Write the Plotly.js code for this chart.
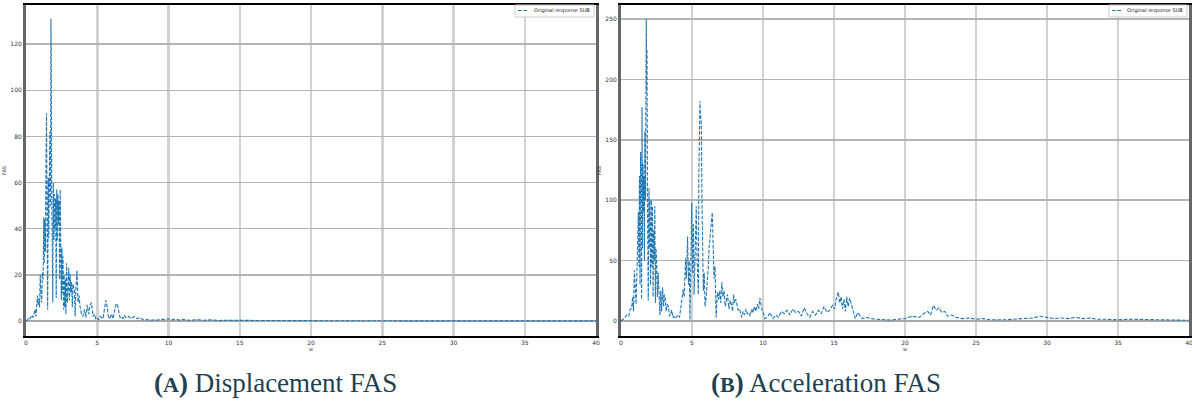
<!DOCTYPE html>
<html>
<head>
<meta charset="utf-8">
<script src="https://cdn.plot.ly/plotly-3.0.1.min.js"></script>
<style>html,body{margin:0;padding:0;background:#fff;}#chart{width:1192px;height:403px;}</style>
</head>
<body>
<div id="chart"></div>
<script>
// ---- Displacement FAS (panel A) ----
const dispW = [0,0.1,0.2,0.3,0.4,0.5,0.6,0.65,0.7,0.75,0.8,0.85,0.9,0.95,1.0,1.05,1.1,1.15,1.2,1.25,1.28,1.32,1.36,1.4,1.44,1.48,1.52,1.56,1.6,1.64,1.68,1.72,1.75,1.77,1.8,1.84,1.88,1.92,1.96,2.0,2.04,2.08,2.12,2.16,2.2,2.24,2.28,2.32,2.36,2.4,2.44,2.48,2.52,2.56,2.6,2.64,2.68,2.72,2.76,2.8,2.85,2.9,2.95,3.0,3.05,3.1,3.15,3.2,3.25,3.3,3.4,3.45,3.5,3.58,3.65,3.72,3.8,3.9,4.0,4.1,4.2,4.3,4.4,4.5,4.6,4.7,4.8,4.9,5.0,5.1,5.2,5.4,5.5,5.6,5.7,5.8,5.9,6.0,6.1,6.2,6.3,6.4,6.5,6.6,6.7,6.8,6.9,7.0,7.2,7.4,7.6,7.8,8.0,8.25,8.5,8.75,9.0,9.25,9.5,9.75,10.0,10.25,10.5,10.75,11.0,11.5,12.0,12.5,13.0,13.5,14,15,16,17,18,19,20,22,25,30,35,40];
const dispFAS = [0,0.5,1.5,1,2.5,1.5,4,5,2,5,11,7,10,6,20,12,8,21,18,45,25,44,30,66,90,40,5,62,36,65,82,50,131,119,60,40,8,60,35,55,40,53,10,57,35,55,42,52,18,57,30,9,32,12,28,5,20,6,18,3,25,8,13,23,9,20,12,17,6,16,13,2,14,22,8,11,6,3,2,5,1.5,7,3,7,8,2,3,1,1.5,0.5,2,1,5,9,6,1,1.5,3,1,5,7,7.5,4,1.5,2,1,2.5,1.5,2,1,2,1,1.5,0.5,0.6,0.3,0.5,0.4,0.8,0.6,1,0.5,0.9,0.4,0.7,0.3,0.6,0.3,0.5,0.2,0.3,0.25,0.2,0.2,0.15,0.12,0.1,0.1,0.08,0.06,0.05,0.05];

// ---- Acceleration FAS (panel B) ----
const accW = [0,0.2,0.4,0.55,0.65,0.75,0.82,0.88,0.94,1.0,1.06,1.12,1.18,1.22,1.26,1.3,1.34,1.38,1.42,1.45,1.48,1.52,1.55,1.58,1.62,1.65,1.68,1.72,1.75,1.78,1.81,1.83,1.86,1.9,1.92,1.95,1.97,2.0,2.04,2.08,2.12,2.15,2.18,2.22,2.26,2.3,2.34,2.38,2.42,2.46,2.51,2.56,2.62,2.68,2.74,2.8,2.86,2.93,3.0,3.05,3.1,3.18,3.25,3.34,3.42,3.5,3.57,3.65,3.72,3.8,3.9,4.03,4.12,4.2,4.3,4.38,4.45,4.5,4.55,4.6,4.65,4.69,4.75,4.8,4.86,4.92,4.98,5.04,5.1,5.15,5.22,5.3,5.36,5.4,5.45,5.48,5.52,5.56,5.6,5.66,5.7,5.75,5.8,5.86,5.92,6.0,6.08,6.15,6.2,6.27,6.35,6.43,6.5,6.55,6.62,6.7,6.75,6.8,6.88,6.95,7.02,7.1,7.18,7.26,7.34,7.42,7.5,7.6,7.7,7.8,7.86,7.93,8.0,8.08,8.17,8.25,8.35,8.42,8.5,8.6,8.7,8.8,8.9,9.0,9.1,9.2,9.3,9.4,9.5,9.6,9.7,9.78,9.85,9.95,10.05,10.13,10.3,10.5,10.7,10.9,11.1,11.3,11.5,11.7,11.9,12.1,12.3,12.5,12.7,12.9,13.1,13.3,13.5,13.7,13.9,14.1,14.3,14.5,14.7,14.9,15.05,15.15,15.3,15.4,15.5,15.6,15.7,15.8,15.9,16.0,16.1,16.2,16.3,16.4,16.5,16.6,16.7,16.85,17.0,17.3,17.6,18.0,18.5,19.0,19.5,20.0,20.5,21.0,21.3,21.6,21.8,22.0,22.2,22.4,22.6,22.8,23.0,23.3,23.6,24.0,24.5,25.0,25.5,26.0,27.0,28.0,28.5,29.0,29.5,30.0,30.5,31.0,31.5,32.0,32.5,33.0,33.5,34.0,35.0,36.0,37.0,38.0,39.0,40.0];
const accFAS = [0,2,5,4,10,10.5,20,8,42,25,14,40,60,90,45,120,30,140,100,18,177,60,130,90,120,50,157,100,180,250,190,225,110,40,17,80,110,60,100,30,90,100,45,95,20,75,50,95,15,60,50,20,40,10,5,25,8,28,12,22,20,8,14,12,4,6,9,3,4,2,3,5,3,9,18,26,20,40,52,35,60,70,30,50,1,60,98,40,80,22,60,95,50,30,22,120,178,182,170,163,100,50,25,40,12,20,30,45,60,73,80,90,60,35,45,3,15,24,18,25,15,32,20,25,12,18,22,10,17,13,8,22,15,18,12,9,10,6,3,8,5,10,6,7,4,10,7,12,8,14,10,19,15,8,6,2,3,7,2,5,3,8,6,9,5,10,7,8,4,11,6,3,8,5,9,6,12,7,9,13,10,18,24,15,20,10,18,8,20,12,19,15,12,8,2,5,7,4,2,3,2,1.5,1,0.8,1.5,2,4,3,6,8,5,13,9,11,7,8,4,5,3,2,2.5,1.5,2,1,1,1.5,2,2.5,4,3,2,2.5,2,3,2,2.5,1.5,1.5,1,1.5,1,1,0.8,0.6];

const legendLabel = "Original response SUB";
const captionA = "<b>(<span style='font-size:22px'>A</span>)</b> Displacement FAS";
const captionB = "<b>(<span style='font-size:22px'>B</span>)</b> Acceleration FAS";
const xTitle = "w";
const yTitle = "FAS";

const W = 1192, H = 403;
const px = v => v / W;
const py = v => 1 - v / H;

const lineStyle = {color: '#1f77b4', width: 1.1, dash: '3.7px,1.6px'};
const serif = "'Liberation Serif', 'Times New Roman', Tinos, Times, serif";

const traces = [
  {x: dispW, y: dispFAS, type: 'scatter', mode: 'lines', line: lineStyle, xaxis: 'x', yaxis: 'y', name: legendLabel, showlegend: false},
  {x: accW, y: accFAS, type: 'scatter', mode: 'lines', line: lineStyle, xaxis: 'x2', yaxis: 'y2', name: legendLabel, showlegend: false}
];

const tickFont = {family: 'DejaVu Sans', size: 6, color: '#333'};
function xAxis(dom, anchor) {
  return {
    domain: dom, anchor: anchor, range: [0, 40], tickvals: [0,5,10,15,20,25,30,35,40],
    showgrid: true, gridcolor: '#d2d2d2', gridwidth: 2.5, zeroline: false,
    showline: true, linecolor: '#000', linewidth: 2, mirror: true,
    ticks: '', tickfont: tickFont, ticklabeloverflow: 'allow',
    title: {text: xTitle, font: {family: 'DejaVu Sans', size: 5, color: '#333'}, standoff: 2}
  };
}
function yAxis(dom, anchor, range, dtick) {
  return {
    domain: dom, anchor: anchor, range: range, dtick: dtick, tick0: 0,
    showgrid: true, gridcolor: '#b4b4b4', gridwidth: 1.5,
    zeroline: true, zerolinecolor: '#a8a8a8', zerolinewidth: 1.5,
    showline: true, linecolor: '#666', linewidth: 3, mirror: true,
    ticks: '', tickfont: tickFont, ticklabeloverflow: 'allow',
    title: {text: yTitle, font: {family: 'DejaVu Sans', size: 5, color: '#333'}, standoff: 4}
  };
}

const yDom = [py(336), py(5)];
const layout = {
  width: W, height: H,
  margin: {l: 0, r: 0, t: 0, b: 0},
  paper_bgcolor: '#fff', plot_bgcolor: '#fff',
  showlegend: false,
  xaxis: xAxis([px(26), px(596)], 'y'),
  yaxis: yAxis(yDom, 'x', [-6.5, 137], 20),
  xaxis2: xAxis([px(621), px(1189)], 'y2'),
  yaxis2: yAxis(yDom, 'x2', [-12.4, 261.6], 50),
  annotations: [
    {text: captionA, xref: 'paper', yref: 'paper', x: px(275), y: py(383), xanchor: 'center', yanchor: 'middle', showarrow: false,
     font: {family: serif, size: 27, color: '#1f4150'}},
    {text: captionB, xref: 'paper', yref: 'paper', x: px(826), y: py(383), xanchor: 'center', yanchor: 'middle', showarrow: false,
     font: {family: serif, size: 27, color: '#1f4150'}},
    {text: legendLabel, xref: 'paper', yref: 'paper', x: px(592), y: py(10.5), xanchor: 'right', yanchor: 'middle', showarrow: false,
     font: {family: 'DejaVu Sans', size: 5, color: '#222'}},
    {text: legendLabel, xref: 'paper', yref: 'paper', x: px(1185), y: py(10.5), xanchor: 'right', yanchor: 'middle', showarrow: false,
     font: {family: 'DejaVu Sans', size: 5, color: '#222'}}
  ],
  shapes: [
    {type: 'rect', xref: 'paper', yref: 'paper', x0: px(515), x1: px(594), y0: py(17), y1: py(5), line: {color: '#cccccc', width: 1}, fillcolor: 'rgba(255,255,255,0.9)', layer: 'above'},
    {type: 'line', xref: 'paper', yref: 'paper', x0: px(518), x1: px(527), y0: py(10.5), y1: py(10.5), line: lineStyle, layer: 'above'},
    {type: 'rect', xref: 'paper', yref: 'paper', x0: px(1109), x1: px(1187), y0: py(17), y1: py(5), line: {color: '#cccccc', width: 1}, fillcolor: 'rgba(255,255,255,0.9)', layer: 'above'},
    {type: 'line', xref: 'paper', yref: 'paper', x0: px(1112), x1: px(1121), y0: py(10.5), y1: py(10.5), line: lineStyle, layer: 'above'}
  ]
};

Plotly.newPlot('chart', traces, layout, {displayModeBar: false, staticPlot: true});
</script>
</body>
</html>
